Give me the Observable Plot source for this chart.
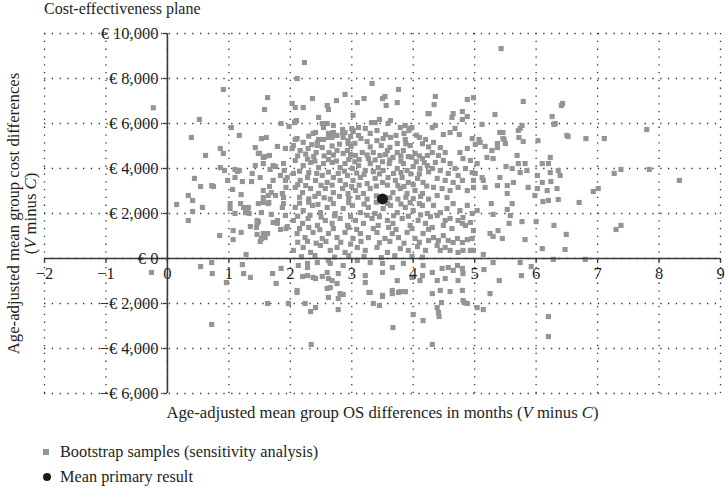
<!DOCTYPE html>
<html>
<head>
<meta charset="utf-8">
<script src="https://cdn.jsdelivr.net/npm/d3@7"></script>
<script src="https://cdn.jsdelivr.net/npm/@observablehq/plot@0.6"></script>
<style>
  body { margin: 0; background: #fff; width: 725px; }
  #title { height: 18px; line-height: 18px; padding-left: 44px; font: 16px "Liberation Serif", serif; color: #231f20; }
  #chart svg { display: block; }
  #legend { margin-top: 11px; font: 16.3px "Liberation Serif", serif; color: #231f20; }
  .row { height: 25px; display: flex; align-items: center; padding-left: 43px; }
  .sq { width: 6px; height: 6px; background: #959595; margin-right: 11px; }
  .ci { width: 8px; height: 8px; border-radius: 50%; background: #1a1a1a; margin-right: 9px; }
</style>
</head>
<body>
<div id="title">Cost-effectiveness plane</div>
<div id="chart"></div>
<div id="legend">
  <div class="row"><span class="sq"></span>Bootstrap samples (sensitivity analysis)</div>
  <div class="row"><span class="ci"></span>Mean primary result</div>
</div>
<script>
// ---- Data ----
const xTicks = [-2, -1, 0, 1, 2, 3, 4, 5, 6, 7, 8, 9];
const xTickLabels = ["−2", "−1", "0", "1", "2", "3", "4", "5", "6", "7", "8", "9"];
const yTicks = [-6000, -4000, -2000, 0, 2000, 4000, 6000, 8000, 10000];
const yTickLabels = ["−€ 6,000", "−€ 4,000", "−€ 2,000", "€ 0", "€ 2,000", "€ 4,000", "€ 6,000", "€ 8,000", "€ 10,000"];
const xTitle = "Age-adjusted mean group OS differences in months (V minus C)";
const yTitle1 = "Age-adjusted mean group cost differences";
const yTitle2 = "(V minus C)";

// mean primary result [OS months, cost €]
const meanResult = [[3.5, 2650]];

// bootstrap samples [OS months, cost €]
const bootstrapSamples = [
[-0.23,6700],[0.52,6180],[0.39,5380],[0.91,7510],[1.04,5820],[1.17,5470],[0.86,4890],[1.43,4930],[1.53,5330],[1.61,5380],[1.58,6620],[1.63,7150],[1.79,4980],[1.85,6000],[1.98,5870],[2.08,6090],[2.03,6890],[2.08,6710],[2.21,6710],[2.11,8000],[2.23,8710],[2.36,7110],[2.46,6270],[2.54,5820],[2.37,5560],[2.62,6620],[2.60,6800],[2.75,7020],[2.89,7290],[2.62,5380],[2.46,5290],[2.54,5290],[2.70,5600],[2.85,5600],[3.02,6360],[3.02,5640],[3.09,6930],[3.00,5780],[2.94,5110],[2.86,5380],[2.08,5290],[2.21,5160],[1.92,4890],[2.03,4890],[2.44,5020],
[5.43,9330],[3.33,7780],[3.76,7510],[3.20,7110],[3.50,7110],[3.54,7200],[3.74,6930],[3.56,6800],[4.36,7200],[4.34,6840],[4.88,7070],[4.98,7150],[4.80,6530],[4.65,6440],[4.26,6440],[4.63,6270],[4.88,6310],[4.80,6180],[5.79,6980],[6.41,6800],[6.26,6310],[6.29,5960],[5.33,6400],[5.12,5960],[4.36,5910],[4.31,5820],[3.95,5780],[4.68,5780],[4.60,5600],[4.49,5510],[4.75,5510],[5.74,5780],[5.77,5910],[5.41,5600],[5.46,5600],[5.48,5290],[5.37,5110],[5.72,5380],[5.79,5200],[6.03,5240],[6.52,5420],[6.81,5330],[7.11,5330],[7.80,5730],[5.07,5290],[4.96,5330],[5.17,4980],[5.01,5070],
[7.27,3780],[7.38,3960],[7.84,3960],[8.33,3470],[6.93,2980],[7.01,3110],[7.30,1290],[7.38,1470],[6.70,2490],[6.36,2620],[6.11,2530],[6.20,2580],[5.53,2890],[5.98,2800],[5.63,3380],[5.61,4000],[5.51,4090],[6.02,3690],[6.24,3420],[6.10,3380],[5.61,2440],[5.53,2180],[5.27,2440],[5.30,1960],[5.56,1560],[5.77,1640],[6.00,1640],[6.29,1470],[6.49,1070],[6.47,400],[6.10,440],[5.82,840],[6.28,-40],[6.80,-40],[5.74,-180],[5.92,-360],[5.76,-760],[5.40,-980],[5.15,-490],[5.25,-1560],[5.14,-2270],[5.04,-2180],[6.20,-2580],[6.20,-3470],[4.31,-3820],[3.67,-3070],[4.16,-2760],[4.00,-2490],[4.42,-2580],[4.41,-2400],[4.46,-1960],[4.31,-1560],[3.35,-2000],[3.45,-2090],[3.28,-1510],[3.50,-1690],[3.66,-1560],[3.79,-1470],[3.87,-1470],[4.83,-1960],[4.88,-2000],[4.60,-1470],[4.80,-1420],
[-0.26,-620],[0.15,2400],[0.34,2800],[0.41,2580],[0.41,2090],[0.34,1690],[0.57,2270],[0.44,3560],[0.54,3200],[0.62,4580],[0.72,3240],[0.75,3200],[0.85,1020],[0.54,-360],[0.72,-180],[0.73,-670],[0.72,-2930],[0.91,4670],[0.86,4040],[0.98,3470],[0.96,-1070],[1.02,2440],[1.06,3070],[1.07,1240],[1.07,840],[1.20,1160],[1.14,3870],[1.17,3910],[1.24,2270],[1.28,180],[1.24,-670],[1.35,-840],[1.33,2000],[1.30,2180],[1.38,3780],[1.45,1380],[1.48,1640],[1.56,2710],[1.53,890],[1.63,1110],[1.69,2930],[1.65,2490],[1.63,-2000],[1.71,-670],[1.77,-1110],[1.85,-440],[1.97,-2000],[1.93,1330],[1.79,1690],[1.89,2710],[1.72,4130],[1.89,4220],[1.48,4670],[1.56,4220],[2.11,-1510],[2.20,-800],[2.33,-2360],[2.41,-2180],[2.24,-2000],[2.78,-2270],[2.65,-1290],[2.86,-1600],[2.76,-1110],[2.52,-800],[2.62,-890],[2.37,-840],[2.28,-400],[2.65,-220],
[2.34,-3820],
[0.93,3910],[1.10,3960],[1.10,3600],[1.22,3420],[1.20,2840],[1.50,4670],[1.56,4490],[1.59,4530],[1.66,4580],[1.43,4130],[1.51,3600],[1.67,3960],[1.76,4090],[1.90,3910],[1.84,3690],[1.72,3470],[1.37,3420],[1.66,3200],[1.56,3020],[1.64,2800],[1.76,2800],[1.87,2890],[1.92,3470],[1.95,3600],[1.93,3160],
[3.38,6040],[3.45,6180],[3.32,6040],[3.63,6130],[3.59,6000],[4.24,6440],[2.07,6040],[2.10,6130],[2.52,6000],[2.60,6000],[2.70,5910],[2.85,5730],[2.89,5600],[3.02,5690],[3.11,5820],[3.22,5780],[3.41,5690],[3.79,5820],[3.87,5910],[3.93,5690],[3.98,5820],[2.11,5330],[2.41,5600],[2.44,5160],[2.62,5560],[2.68,5380],[2.76,5470],[2.94,5240],[2.99,4980],[3.11,5470],[3.15,5330],[3.25,5200],[3.41,5240],[3.51,5330],[3.63,5380],[3.72,5470],[3.74,5110],[3.87,5290],[3.95,5020],[4.10,5380],[4.20,5290],
[2.05,5020],[2.16,4800],[2.29,4890],[2.42,4710],[2.52,4930],[2.63,4710],[2.76,4800],[2.86,4670],[2.93,4800],[3.06,4580],[3.17,4710],[3.27,4440],[3.35,4710],[3.46,4580],[3.58,4800],[3.67,4490],[3.74,4710],[3.84,4800],[3.92,4530],[4.03,4670],[4.15,4440],[4.23,4580],
[2.08,4360],[2.21,4130],[2.33,4270],[2.46,4040],[2.54,4220],[2.68,4270],[2.81,4040],[2.89,4220],[3.01,4000],[3.11,4130],[3.22,3910],[3.30,4220],[3.43,4040],[3.51,3910],[3.61,4220],[3.74,4000],[3.84,4220],[3.90,3910],[4.00,4090],[4.11,4000],[4.23,4130],
[2.05,3780],[2.16,3470],[2.28,3600],[2.41,3470],[2.52,3690],[2.60,3380],[2.70,3600],[2.81,3470],[2.93,3690],[3.02,3470],[3.14,3600],[3.25,3330],[3.38,3560],[3.50,3380],[3.59,3600],[3.71,3470],[3.82,3600],[3.92,3380],[4.07,3560],[4.16,3380],
[2.08,3160],[2.20,2930],[2.33,3110],[2.46,2890],[2.57,3110],[2.70,2930],[2.85,3110],[2.94,2890],[3.06,3020],[3.19,2890],[3.30,3110],[3.67,2930],[3.79,3110],[3.90,2890],[4.03,3020],[4.15,2890],
[2.30,5440],[2.98,5420],[3.30,5560],[3.55,5500],[3.85,5560],[4.05,5480],
[2.35,5060],[2.68,5000],[2.80,5080],[3.05,5120],[3.30,4960],[3.48,5020],[3.62,4940],[3.88,5100],[4.15,5100],[4.25,4960],
[2.12,4560],[2.25,4640],[2.38,4530],[2.55,4560],[2.70,4600],[2.98,4620],[3.12,4400],[3.25,4600],[3.55,4620],[3.80,4560],[3.98,4500],[4.10,4560],
[2.28,4420],[2.40,4330],[2.62,4400],[2.75,4330],[2.95,4400],[3.05,4300],[3.38,4380],[3.50,4300],[3.62,4380],[3.80,4330],[4.05,4300],[4.18,4260],
[2.15,3880],[2.30,3820],[2.43,3780],[2.62,3840],[2.78,3780],[2.88,3880],[3.08,3800],[3.20,3740],[3.35,3860],[3.45,3760],[3.68,3780],[3.80,3820],[3.96,3760],[4.10,3760],[4.25,3850],
[2.12,3280],[2.25,3240],[2.50,3250],[2.68,3260],[2.90,3280],[3.00,3200],[3.12,3260],[3.40,3220],[3.58,3260],[3.75,3240],[3.85,3200],[4.00,3280],[4.22,3220],
[2.15,2720],[2.30,2650],[2.40,2760],[2.55,2700],[2.65,2640],[2.80,2760],[2.95,2680],[3.10,2720],[3.25,2640],[3.40,2780],[3.62,2700],[3.75,2640],[3.88,2720],[4.00,2660],[4.12,2760],[4.25,2640],
[2.15,2460],[2.30,2500],[2.45,2400],[2.70,2440],[2.95,2480],[3.20,2420],[3.40,2500],[3.58,2450],[3.80,2420],[3.95,2480],[4.10,2440],
[2.12,1880],[2.32,1920],[2.50,1840],[2.72,1900],[2.98,1860],[3.25,1920],[3.45,1860],[3.68,1900],[3.92,1880],[4.12,1940],[4.28,1860],
[2.15,1330],[2.30,1380],[2.48,1280],[2.70,1330],[2.95,1380],[3.08,1290],[3.35,1330],[3.60,1380],[3.72,1290],[3.98,1330],[4.25,1300],
[2.12,720],[2.28,760],[2.42,680],[2.58,760],[2.82,720],[2.98,640],[3.15,760],[3.45,700],[3.62,760],[3.85,680],[4.10,720],[4.25,800],
[2.18,80],[2.40,130],[2.72,60],[2.95,130],[3.20,90],[3.48,40],[3.70,120],[3.98,100],[4.15,60],
[2.08,2270],[2.21,2130],[2.36,2360],[2.49,2040],[2.60,2270],[2.73,2000],[2.86,2220],[3.01,2360],[3.14,2040],[3.27,2270],[3.38,2000],[3.51,2220],[3.63,2360],[3.74,2040],[3.87,2270],[4.00,2130],[4.15,2360],[4.23,2000],
[2.05,1690],[2.20,1560],[2.29,1780],[2.44,1470],[2.57,1690],[2.68,1560],[2.81,1780],[2.93,1470],[3.06,1690],[3.19,1560],[3.33,1780],[3.43,1470],[3.58,1690],[3.67,1560],[3.82,1780],[3.95,1470],[4.08,1690],[4.20,1560],
[2.11,1110],[2.24,930],[2.37,1160],[2.52,890],[2.62,1110],[2.76,930],[2.89,1160],[3.02,890],[3.14,1110],[3.27,930],[3.41,1160],[3.54,890],[3.66,1110],[3.76,930],[3.90,1160],[4.03,890],[4.16,1110],
[2.05,360],[2.21,490],[2.33,270],[2.49,580],[2.65,360],[2.76,490],[2.89,270],[3.09,490],[3.22,360],[3.41,490],[3.58,270],[3.79,440],[3.92,360],[4.07,530],[4.20,360],
[2.13,-310],[2.28,-220],[2.44,-180],[2.62,-90],[2.86,-310],[3.09,-90],[3.30,-180],[3.50,-220],[3.66,-400],[3.84,-220],[4.16,-310],
[2.28,-760],[2.41,-890],[2.60,-620],[2.68,-980],[2.78,-670],[3.22,-760],[3.50,-620],[3.74,-980],[3.98,-840],[4.11,-980],[4.15,-760],
[2.11,-1420],[2.60,-1330],[2.81,-1560],[3.30,-1510],[3.50,-1640],[3.66,-1420],[3.76,-1510],[3.87,-1470],[2.62,-1730],[2.78,-1780],[3.22,-1070],
[4.33,2360],[4.44,2040],[4.55,2220],[4.65,2440],[4.76,2130],[4.88,2360],[4.96,2000],[4.52,1690],[4.39,1910],[4.31,1380],[4.60,1780],[4.73,1690],[4.81,1820],[4.80,1560],[4.93,1600],[5.04,2130],[5.58,1910],
[4.49,1470],[4.63,1330],[4.85,1470],[4.98,1240],[5.25,1110],[5.30,980],[5.38,1240],[5.45,890],
[4.33,930],[4.41,800],[4.49,1020],[4.57,800],[4.65,710],[4.72,890],[4.80,710],[4.88,840],[4.96,890],[4.39,580],[4.60,360],[4.73,270],[4.81,360],[4.93,360],[4.52,490],[4.44,360],[4.98,360],[5.14,180],[5.30,-180],
[4.31,-620],[4.39,-980],[4.52,-890],[4.47,-440],[4.57,-400],[4.65,-530],[4.72,-310],[4.80,-440],[4.81,-670],[4.73,-980],[4.44,-1420],[4.81,-1870],[4.39,-2180],
[4.33,5160],[4.44,4930],[4.31,4710],[4.41,4580],[4.52,4710],[4.49,4360],[4.36,4270],[4.60,4220],[4.31,4000],[4.44,3910],[4.57,3780],[4.68,4000],[4.73,3690],[4.39,3560],[4.52,3470],[4.65,3380],[4.80,3470],[4.33,3160],[4.47,3110],[4.60,3020],[4.73,3160],[4.88,3020],[4.55,2710],[4.39,2800],[4.76,4710],[4.88,4890],[4.81,4440],[4.93,4360],[4.96,3820],[4.85,4000],[4.98,3470],
[5.09,5160],[5.28,4800],[5.37,4930],[5.46,5330],[5.50,5110],[5.20,4490],[5.30,4440],[5.04,4220],[5.01,3780],[5.14,3470],[5.17,3160],[5.41,3600],[5.37,3240],[5.53,3240],[4.98,3160],
[5.71,5690],[5.69,4580],[5.71,4220],[5.82,4220],[5.74,3820],[5.85,3910],[5.87,3160],[6.02,3110],[6.10,4220],[6.20,4220],[6.23,4490],[6.23,3820],[6.36,3910],[6.39,3690],[6.34,3110],[6.18,3020],[6.43,6890],[6.31,6000],[6.50,5470],[5.12,3600],
[1.02,2220],[1.10,2000],[1.19,2440],[1.30,2220],[1.27,2040],[1.32,2270],[1.35,1420],[1.46,1690],[1.46,1560],[1.53,2040],[1.48,2440],[1.56,2490],[1.64,2440],[1.69,1960],[1.46,1070],[1.56,1110],[1.51,760],[1.59,930],[1.72,1600],[1.79,1560],[1.84,1290],[1.89,2440],[1.87,2270],[1.92,1910],[1.95,1420],[1.22,-270]
];

// ---- Chart ----
const ink = "#231f20";
const font = "'Liberation Serif', serif";
const grid = {stroke: "#333", strokeWidth: 1.3, strokeDasharray: "1.3,6.5"};

const chart = Plot.plot({
  width: 725,
  height: 410,
  marginTop: 15,
  marginBottom: 35,
  marginLeft: 44,
  marginRight: 5,
  x: {domain: [-2, 9], axis: null},
  y: {domain: [-6000, 10000], axis: null},
  style: {fontFamily: font, fontSize: "16px", color: ink, background: "white", overflow: "visible"},
  marks: [
    Plot.ruleX(xTicks, grid),
    Plot.ruleY(yTicks, grid),
    Plot.dot(bootstrapSamples, {x: d => d[0], y: d => d[1], symbol: "square", r: 2.9, fill: "#959595", stroke: null}),
    Plot.dot(meanResult, {x: d => d[0], y: d => d[1], r: 5.5, fill: "#1a1a1a", stroke: null}),
    Plot.ruleY([0], {stroke: "#3a3a3a", strokeWidth: 1.6}),
    Plot.ruleX([0], {stroke: "#3a3a3a", strokeWidth: 1.6}),
    Plot.ruleX(xTicks, {x: d => d, y1: 0, y2: 0, insetBottom: -5, stroke: "#3a3a3a", strokeWidth: 1.3}),
    Plot.ruleY(yTicks, {y: d => d, x1: 0, x2: 0, insetLeft: -4, stroke: "#3a3a3a", strokeWidth: 1.3}),
    Plot.text(xTicks, {x: d => d, y: 0, text: (d, i) => xTickLabels[i], dy: 15, lineAnchor: "middle", fill: ink, fontSize: 16.5}),
    Plot.text(yTicks, {x: 0, y: d => d, text: (d, i) => yTickLabels[i], dx: -9, textAnchor: "end", lineAnchor: "middle", fill: ink, fontSize: 16.5}),
    Plot.text([xTitle], {frameAnchor: "bottom", dy: 19, textAnchor: "middle", lineAnchor: "middle", fill: ink, fontSize: 16.7}),
    Plot.text([yTitle1], {frameAnchor: "left", dx: -31, rotate: -90, textAnchor: "middle", lineAnchor: "middle", fill: ink, fontSize: 16.7}),
    Plot.text([yTitle2], {frameAnchor: "left", dx: -14, rotate: -90, textAnchor: "middle", lineAnchor: "middle", fill: ink, fontSize: 16.7})
  ]
});

// italicise V and C in the axis titles
chart.querySelectorAll("text").forEach(t => {
  const s = t.textContent;
  if (s === xTitle || s === yTitle2) {
    const parts = s.split(/(V|C\))/);
    t.textContent = "";
    parts.forEach(p => {
      if (!p) return;
      const ts = document.createElementNS("http://www.w3.org/2000/svg", "tspan");
      if (p === "V") { ts.textContent = "V"; ts.setAttribute("font-style", "italic"); t.appendChild(ts); }
      else if (p === "C)") {
        ts.textContent = "C"; ts.setAttribute("font-style", "italic"); t.appendChild(ts);
        const t2 = document.createElementNS("http://www.w3.org/2000/svg", "tspan");
        t2.textContent = ")"; t.appendChild(t2);
      } else { ts.textContent = p; t.appendChild(ts); }
    });
  }
});

document.getElementById("chart").appendChild(chart);
</script>
</body>
</html>
